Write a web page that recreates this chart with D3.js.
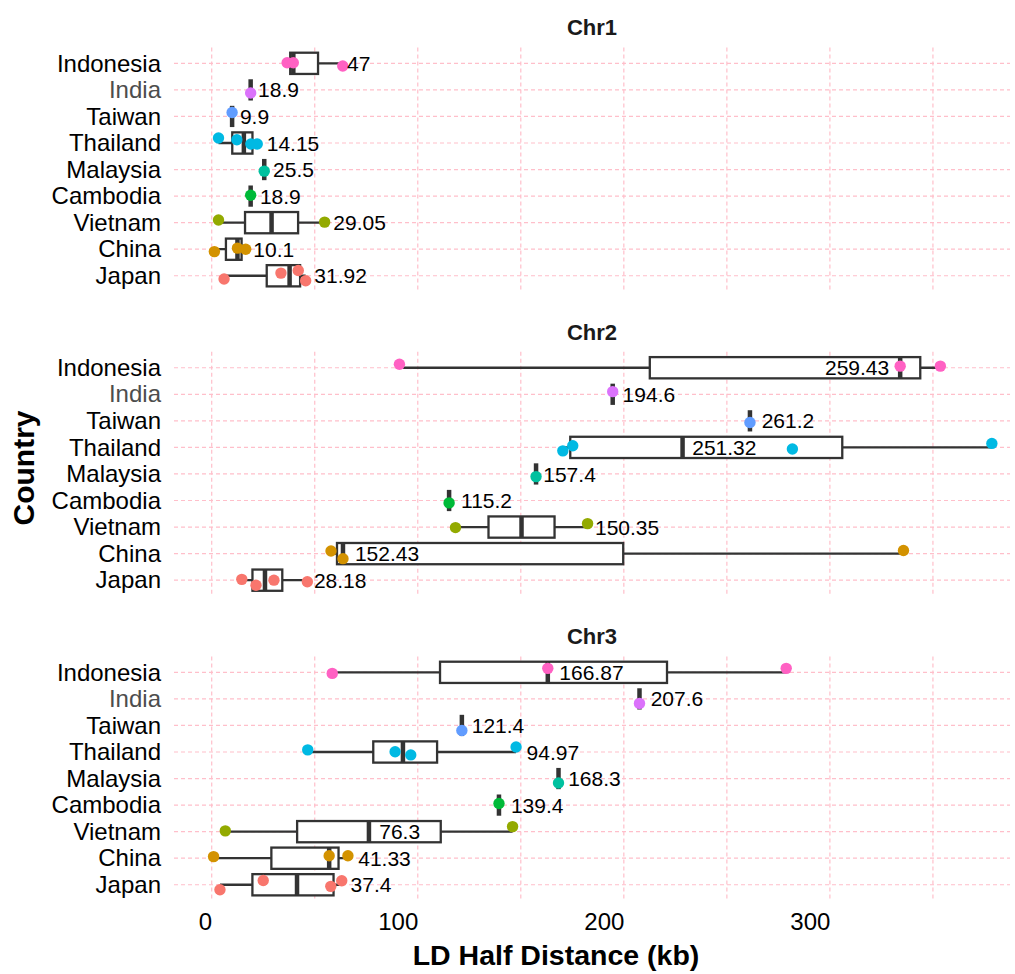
<!DOCTYPE html>
<html>
<head>
<meta charset="utf-8">
<script src="https://cdn.jsdelivr.net/npm/d3@7"></script>
<style>
  body { margin: 0; background: #fff; }
  svg { font-family: "Liberation Sans", Arial, Helvetica, sans-serif; }
  .axis-title { font-weight: bold; fill: #000; }
  .strip { font-weight: bold; font-size: 22px; fill: #1a1a1a; }
  .mean-label { font-size: 21px; fill: #000; }
</style>
</head>
<body>
<svg id="chart" width="1015" height="974"></svg>
<script>
// categories, top to bottom
const countries = ['Indonesia', 'India', 'Taiwan', 'Thailand', 'Malaysia', 'Cambodia', 'Vietnam', 'China', 'Japan'];
const chromosomes = ['Chr1', 'Chr2', 'Chr3'];

// LD half distance (kb) per country, one array per chromosome
const chr1Values = [[36.6, 39.6, 63.6], [18.9], [9.9], [3.3, 12.2, 19.0, 22.1], [25.5], [18.9], [3.3, 54.8], [1.3, 12.5, 16.5], [6.0, 33.6, 42.0, 45.6]];
const chr2Values = [[91.1, 334.1, 353.6], [194.6], [261.2], [170.4, 175.2, 281.8, 378.6], [157.4], [115.2], [118.3, 182.4], [57.9, 63.7, 335.7], [14.6, 21.5, 30.2, 46.4]];
const chr3Values = [[58.5, 163.1, 278.8], [207.6], [121.4], [46.6, 89.0, 96.6, 147.7], [168.3], [139.4], [6.6, 146.0], [0.9, 57.0, 66.1], [4.0, 25.0, 57.8, 63.1]];

// vertical jitter of each point (fraction of a row)
const chr1Jitter = [[-0.02, -0.02, 0.1], [0.12], [-0.15], [-0.19, -0.12, 0.04, 0.04], [0.06], [-0.03], [-0.1, -0.02], [0.09, -0.04, 0], [0.12, -0.1, -0.2, 0.19]];
const chr2Jitter = [[-0.13, -0.06, -0.06], [-0.1], [0.06], [0.13, -0.06, 0.06, -0.15], [0.1], [0.09], [0.02, -0.13], [-0.1, 0.19, -0.12], [-0.03, 0.19, 0, 0.06]];
const chr3Jitter = [[0.04, -0.15, -0.15], [0.17], [0.19], [-0.08, -0.01, 0.11, -0.19], [0.17], [-0.06], [-0.03, -0.19], [-0.06, -0.09, -0.09], [0.19, -0.16, 0.06, -0.15]];

// mean labels and where they sit (kb)
const chr1Means = ['47', '18.9', '9.9', '14.15', '25.5', '18.9', '29.05', '10.1', '31.92'];
const chr2Means = ['259.43', '194.6', '261.2', '251.32', '157.4', '115.2', '150.35', '152.43', '28.18'];
const chr3Means = ['166.87', '207.6', '121.4', '94.97', '168.3', '139.4', '76.3', '41.33', '37.4'];
const chr1LabelAt = [65.7, 22.5, 13.7, 26.7, 29.8, 23.4, 59.0, 20.2, 49.8];
const chr2LabelAt = [297.6, 199.4, 266.9, 233.2, 160.9, 121.0, 186.0, 69.5, 49.6];
const chr3LabelAt = [168.7, 213.0, 126.2, 152.8, 173.0, 145.2, 81.3, 71.1, 67.4];

const xTicks = [0, 100, 200, 300];
const xGrid = [0, 50, 100, 150, 200, 250, 300, 350];

// ggplot hue palette, Japan first
const palette = ['#FF61C3', '#DB72FB', '#619CFF', '#00B9E3', '#00C19F', '#00BA38', '#93AA00', '#D39200', '#F8766D'];

const panels = [
  { name: chromosomes[0], values: chr1Values, jitter: chr1Jitter, means: chr1Means, labelAt: chr1LabelAt },
  { name: chromosomes[1], values: chr2Values, jitter: chr2Jitter, means: chr2Means, labelAt: chr2LabelAt },
  { name: chromosomes[2], values: chr3Values, jitter: chr3Jitter, means: chr3Means, labelAt: chr3LabelAt }
];

const svg = d3.select('#chart');
const panelLeft = 174, panelRight = 1010;
const panelTops = [47.4, 351.8, 656.4];
const panelH = 244.3;

const x = d3.scaleLinear().domain([-18.3, 387.4]).range([panelLeft, panelRight]);
const color = d3.scaleOrdinal().domain(countries).range(palette);

function boxStats(vals) {
  const s = vals.slice().sort(d3.ascending);
  const q1 = d3.quantile(s, 0.25), med = d3.quantile(s, 0.5), q3 = d3.quantile(s, 0.75);
  const iqr = q3 - q1;
  const lo = d3.min(s.filter(v => v >= q1 - 1.5 * iqr));
  const hi = d3.max(s.filter(v => v <= q3 + 1.5 * iqr));
  return { q1, med, q3, lo, hi };
}

panels.forEach((p, pi) => {
  const top = panelTops[pi];
  const y = d3.scalePoint().domain(countries).range([top, top + panelH]).padding(0.6);
  const boxH = y.step() * 0.8;
  const g = svg.append('g');

  // grid
  g.selectAll('.vgrid').data(xGrid).enter().append('line')
    .attr('x1', d => x(d)).attr('x2', d => x(d))
    .attr('y1', top).attr('y2', top + panelH)
    .attr('stroke', '#ffbfca').attr('stroke-width', 1.2).attr('stroke-dasharray', '4,3');
  g.selectAll('.hgrid').data(countries).enter().append('line')
    .attr('x1', panelLeft).attr('x2', panelRight)
    .attr('y1', d => y(d)).attr('y2', d => y(d))
    .attr('stroke', '#ffbfca').attr('stroke-width', 1.2).attr('stroke-dasharray', '4,3');

  // strip title
  svg.append('text').attr('class', 'strip')
    .attr('x', (panelLeft + panelRight) / 2).attr('y', top - 12)
    .attr('text-anchor', 'middle').text(p.name);

  // y axis
  const yAxisG = g.append('g').attr('transform', `translate(${panelLeft},0)`)
    .call(d3.axisLeft(y).tickSize(0).tickPadding(13));
  yAxisG.select('.domain').remove();
  yAxisG.selectAll('text')
    .style('font-size', '24px')
    .attr('fill', d => d === 'India' ? '#4d4d4d' : '#000')
    .attr('font-family', '"Liberation Sans", Arial, sans-serif');

  const rows = countries.map((c, i) => ({ c, vals: p.values[i], jit: p.jitter[i], mean: p.means[i], at: p.labelAt[i], st: boxStats(p.values[i]) }));

  // whiskers
  g.selectAll('.whisk').data(rows).enter().append('path')
    .attr('d', d => `M${x(d.st.lo)},${y(d.c)}H${x(d.st.q1)}M${x(d.st.q3)},${y(d.c)}H${x(d.st.hi)}`)
    .attr('stroke', '#333').attr('stroke-width', 2.3).attr('fill', 'none');
  // boxes
  g.selectAll('.box').data(rows).enter().append('rect')
    .attr('x', d => x(d.st.q1)).attr('width', d => x(d.st.q3) - x(d.st.q1))
    .attr('y', d => y(d.c) - boxH / 2).attr('height', boxH)
    .attr('fill', '#fff').attr('stroke', '#333').attr('stroke-width', 2.3);
  // medians
  g.selectAll('.med').data(rows).enter().append('line')
    .attr('x1', d => x(d.st.med)).attr('x2', d => x(d.st.med))
    .attr('y1', d => y(d.c) - boxH / 2).attr('y2', d => y(d.c) + boxH / 2)
    .attr('stroke', '#333').attr('stroke-width', 4.5);

  // points
  const pts = rows.flatMap(r => r.vals.map((v, k) => ({ c: r.c, v, j: r.jit[k] })));
  g.selectAll('.pt').data(pts).enter().append('circle')
    .attr('cx', d => x(d.v)).attr('cy', d => y(d.c) + d.j * y.step())
    .attr('r', 5.7).attr('fill', d => color(d.c));

  // mean labels
  g.selectAll('.ml').data(rows).enter().append('text').attr('class', 'mean-label')
    .attr('x', d => x(d.at)).attr('y', d => y(d.c)).attr('dy', '0.36em')
    .text(d => d.mean);

  // x axis on the bottom panel only
  if (pi === panels.length - 1) {
    const xAxisG = svg.append('g').attr('transform', `translate(0,${top + panelH})`)
      .call(d3.axisBottom(x).tickValues(xTicks).tickSize(0).tickPadding(12).tickFormat(d3.format('d')));
    xAxisG.select('.domain').remove();
    xAxisG.selectAll('text')
      .style('font-size', '24px').attr('fill', '#000')
      .attr('text-anchor', 'end')
      .attr('font-family', '"Liberation Sans", Arial, sans-serif');
  }
});

svg.append('text').attr('class', 'axis-title')
  .style('font-size', '28.5px')
  .attr('x', 556).attr('y', 965).attr('text-anchor', 'middle')
  .text('LD Half Distance (kb)');
svg.append('text').attr('class', 'axis-title')
  .style('font-size', '30px')
  .attr('transform', 'translate(34,468) rotate(-90)')
  .attr('text-anchor', 'middle')
  .text('Country');
</script>
</body>
</html>
